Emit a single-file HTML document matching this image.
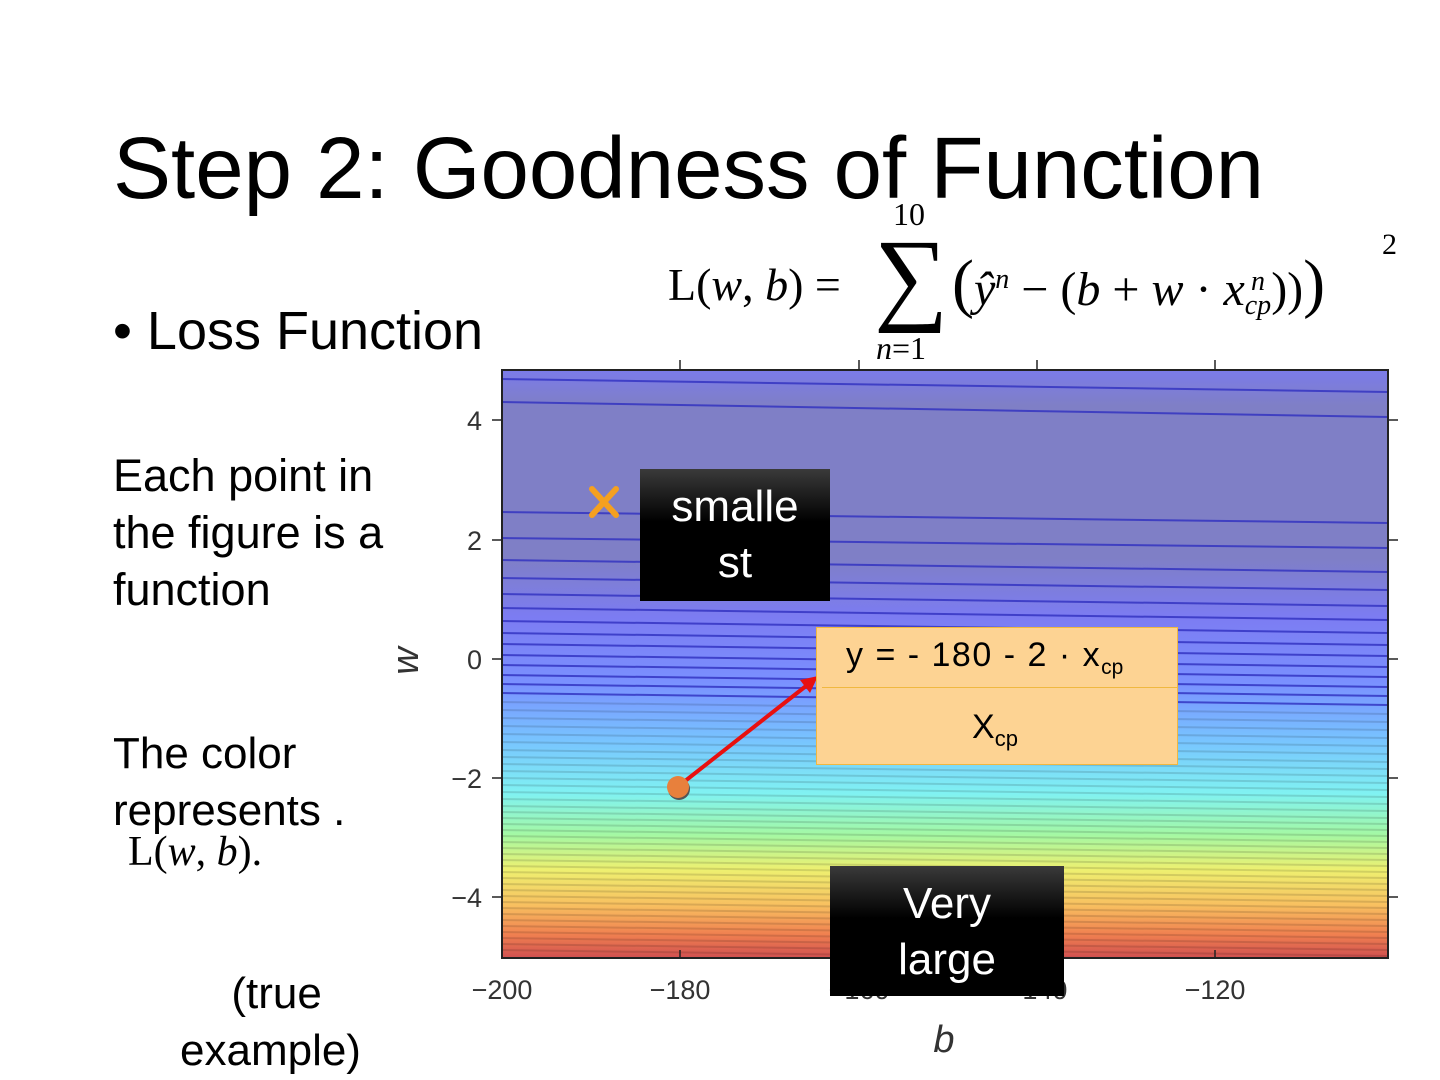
<!DOCTYPE html>
<html><head><meta charset="utf-8"><style>
html,body{margin:0;padding:0;background:#fff;}
body{width:1440px;height:1080px;position:relative;overflow:hidden;font-family:"Liberation Sans",sans-serif;}
.t{position:absolute;color:#000;white-space:nowrap;}
</style></head><body>
<svg width="1440" height="1080" style="position:absolute;left:0;top:0">
<defs>
<linearGradient id="g" x1="0" y1="370" x2="0" y2="958" gradientUnits="userSpaceOnUse">
<stop offset="0" stop-color="#7b7bea"/>
<stop offset="0.06" stop-color="#7f7fc6"/>
<stop offset="0.32" stop-color="#7f7fc6"/>
<stop offset="0.42" stop-color="#7c7cf2"/>
<stop offset="0.53" stop-color="#7a90ff"/>
<stop offset="0.63" stop-color="#78c4ff"/>
<stop offset="0.72" stop-color="#80f2f2"/>
<stop offset="0.79" stop-color="#a4f8a4"/>
<stop offset="0.85" stop-color="#eef070"/>
<stop offset="0.91" stop-color="#f8c060"/>
<stop offset="0.96" stop-color="#f08050"/>
<stop offset="1" stop-color="#d05050"/>
</linearGradient>
<clipPath id="c"><rect x="502" y="370" width="886" height="588"/></clipPath>
</defs>
<rect x="502" y="370" width="886" height="588" fill="url(#g)"/>
<g clip-path="url(#c)" stroke-width="2" fill="none">
<g stroke="#3030c0" opacity="0.8">
<line x1="502" y1="379" x2="1388" y2="392"/><line x1="502" y1="402" x2="1388" y2="417"/>
<line x1="502" y1="512" x2="1388" y2="523"/><line x1="502" y1="538" x2="1388" y2="548"/>
<line x1="502" y1="560" x2="1388" y2="572"/><line x1="502" y1="578" x2="1388" y2="590"/>
<line x1="502" y1="594" x2="1388" y2="606"/><line x1="502" y1="608" x2="1388" y2="620"/>
<line x1="502" y1="621" x2="1388" y2="633"/><line x1="502" y1="633" x2="1388" y2="645"/>
<line x1="502" y1="644" x2="1388" y2="656"/><line x1="502" y1="655" x2="1388" y2="667"/>
<line x1="502" y1="665" x2="1388" y2="677"/><line x1="502" y1="675" x2="1388" y2="687"/>
<line x1="502" y1="684" x2="1388" y2="696"/><line x1="502" y1="693" x2="1388" y2="705"/>
</g>
<g stroke="#000" opacity="0.12">
<line x1="502" y1="702" x2="1388" y2="714"/><line x1="502" y1="710" x2="1388" y2="722"/>
<line x1="502" y1="718" x2="1388" y2="730"/><line x1="502" y1="726" x2="1388" y2="738"/>
<line x1="502" y1="734" x2="1388" y2="746"/><line x1="502" y1="742" x2="1388" y2="754"/>
<line x1="502" y1="750" x2="1388" y2="762"/><line x1="502" y1="757" x2="1388" y2="769"/>
<line x1="502" y1="764" x2="1388" y2="776"/><line x1="502" y1="771" x2="1388" y2="783"/>
<line x1="502" y1="778" x2="1388" y2="790"/><line x1="502" y1="785" x2="1388" y2="797"/>
<line x1="502" y1="792" x2="1388" y2="804"/><line x1="502" y1="799" x2="1388" y2="811"/>
<line x1="502" y1="806" x2="1388" y2="818"/><line x1="502" y1="812" x2="1388" y2="824"/>
<line x1="502" y1="818" x2="1388" y2="830"/><line x1="502" y1="824" x2="1388" y2="836"/>
<line x1="502" y1="830" x2="1388" y2="842"/><line x1="502" y1="836" x2="1388" y2="848"/>
<line x1="502" y1="842" x2="1388" y2="854"/><line x1="502" y1="848" x2="1388" y2="860"/>
<line x1="502" y1="854" x2="1388" y2="866"/><line x1="502" y1="860" x2="1388" y2="872"/>
<line x1="502" y1="866" x2="1388" y2="878"/><line x1="502" y1="872" x2="1388" y2="884"/>
<line x1="502" y1="878" x2="1388" y2="890"/><line x1="502" y1="884" x2="1388" y2="896"/>
<line x1="502" y1="890" x2="1388" y2="902"/><line x1="502" y1="896" x2="1388" y2="908"/>
<line x1="502" y1="902" x2="1388" y2="914"/><line x1="502" y1="908" x2="1388" y2="920"/>
<line x1="502" y1="914" x2="1388" y2="926"/><line x1="502" y1="920" x2="1388" y2="932"/>
<line x1="502" y1="926" x2="1388" y2="938"/><line x1="502" y1="932" x2="1388" y2="944"/>
<line x1="502" y1="938" x2="1388" y2="950"/><line x1="502" y1="944" x2="1388" y2="956"/>
<line x1="502" y1="950" x2="1388" y2="962"/>
</g>
</g>
<rect x="502" y="370" width="886" height="588" fill="none" stroke="#222" stroke-width="2"/>
<g stroke="#222" stroke-width="1.5">
<line x1="680" y1="958" x2="680" y2="950"/><line x1="859" y1="958" x2="859" y2="950"/><line x1="1037" y1="958" x2="1037" y2="950"/><line x1="1215" y1="958" x2="1215" y2="950"/>
<line x1="680" y1="370" x2="680" y2="360"/><line x1="859" y1="370" x2="859" y2="360"/><line x1="1037" y1="370" x2="1037" y2="360"/><line x1="1215" y1="370" x2="1215" y2="360"/>
<line x1="492" y1="420" x2="502" y2="420"/><line x1="492" y1="540" x2="502" y2="540"/><line x1="492" y1="659" x2="502" y2="659"/><line x1="492" y1="778" x2="502" y2="778"/><line x1="492" y1="897" x2="502" y2="897"/>
<line x1="1388" y1="420" x2="1398" y2="420"/><line x1="1388" y1="540" x2="1398" y2="540"/><line x1="1388" y1="659" x2="1398" y2="659"/><line x1="1388" y1="778" x2="1398" y2="778"/><line x1="1388" y1="897" x2="1398" y2="897"/>
</g>
<g font-family="Liberation Sans Narrow,Liberation Sans,sans-serif" font-size="27" fill="#333" text-anchor="end">
<text x="482" y="430">4</text><text x="482" y="550">2</text><text x="482" y="669">0</text><text x="482" y="788">−2</text><text x="482" y="907">−4</text>
</g>
<g font-family="Liberation Sans Narrow,Liberation Sans,sans-serif" font-size="27" fill="#333" text-anchor="middle">
<text x="502" y="999">−200</text><text x="680" y="999">−180</text><text x="859" y="999">−160</text><text x="1037" y="999">−140</text><text x="1215" y="999">−120</text>
</g>
<text x="944" y="1052" font-family="Liberation Sans,sans-serif" font-style="italic" font-size="38" fill="#333" text-anchor="middle">b</text>
<text transform="translate(418,661) rotate(-90)" font-family="Liberation Sans,sans-serif" font-style="italic" font-size="38" fill="#333" text-anchor="middle">w</text>
<g stroke="#f5a020" stroke-width="6" stroke-linecap="round"><line x1="592" y1="489" x2="616" y2="515"/><line x1="616" y1="489" x2="592" y2="515"/></g>
<line x1="680" y1="785" x2="806" y2="686" stroke="#e81010" stroke-width="4"/>
<polygon points="818,676 800,680 810,693" fill="#e81010"/>
<circle cx="679" cy="789" r="11" fill="#555"/>
<circle cx="678" cy="787" r="11" fill="#e8803c"/>
</svg>

<div style="position:absolute;left:640px;top:469px;width:190px;height:132px;background:linear-gradient(#3a3a3a,#000 40%);color:#fff;font-size:44px;text-align:center;line-height:56px;padding-top:10px;box-sizing:border-box;">smalle<br>st</div>
<div style="position:absolute;left:830px;top:866px;width:234px;height:130px;background:linear-gradient(#3a3a3a,#000 40%);color:#fff;font-size:44px;text-align:center;line-height:56px;padding-top:10px;box-sizing:border-box;">Very<br>large</div>

<div style="position:absolute;left:816px;top:627px;width:362px;height:138px;background:#fdd393;border:1px solid #f0b840;box-sizing:border-box;"></div>
<div style="position:absolute;left:822px;top:633px;width:356px;height:54px;border-bottom:1px solid #f0b840;"></div>
<div class="t" style="left:846px;top:636px;font-size:34px;letter-spacing:1.5px;">y = - 180 - 2 · x<sub style="font-size:21px;letter-spacing:0;">cp</sub></div>
<div class="t" style="left:972px;top:708px;font-size:34px;">X<sub style="font-size:22px;">cp</sub></div>

<div class="t" style="left:113px;top:119px;font-size:87px;">Step 2: Goodness of Function</div>
<div class="t" style="left:113px;top:300px;font-size:54px;">• Loss Function</div>

<div class="t" style="left:668px;top:258px;font-family:'Liberation Serif',serif;font-size:46px;">L(<i>w</i>, <i>b</i>) =</div>
<div class="t" style="left:874px;top:222px;font-family:'Liberation Serif',serif;font-size:104px;line-height:110px;">∑</div>
<div class="t" style="left:893px;top:196px;font-family:'Liberation Serif',serif;font-size:32px;">10</div>
<div class="t" style="left:876px;top:330px;font-family:'Liberation Serif',serif;font-size:32px;"><i>n</i>=1</div>
<div class="t" style="left:952px;top:246px;font-family:'Liberation Serif',serif;font-size:48px;"><span style="font-size:66px;">(</span><i>ŷ</i><sup style="font-size:28px;"><i>n</i></sup> − (<i>b</i> + <i>w</i> · <i>x</i><span style="display:inline-block;vertical-align:middle;font-size:28px;line-height:24px;text-align:center;"><i>n</i><br><i>cp</i></span>))<span style="font-size:66px;">)</span></div>
<div class="t" style="left:1382px;top:228px;font-family:'Liberation Serif',serif;font-size:30px;">2</div>

<div class="t" style="left:113px;top:447px;font-size:45px;line-height:57px;">Each point in<br>the figure is a<br>function</div>
<div class="t" style="left:113px;top:725px;font-size:44px;line-height:57px;">The color<br>represents&nbsp;.</div>
<div class="t" style="left:128px;top:828px;font-family:'Liberation Serif',serif;font-size:42px;">L(<i>w</i>, <i>b</i>).</div>
<div class="t" style="left:180px;top:965px;font-size:44px;line-height:57px;text-align:center;">&nbsp;(true<br>example)</div>
</body></html>
